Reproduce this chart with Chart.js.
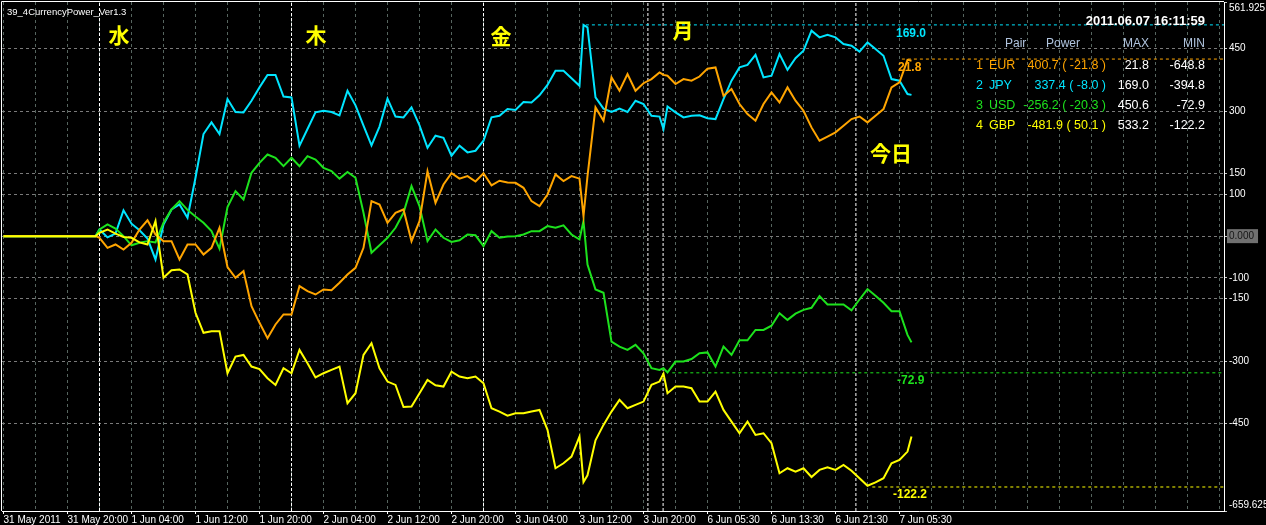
<!DOCTYPE html>
<html>
<head>
<meta charset="utf-8">
<title>39_4CurrencyPower_Ver1.3</title>
<script src="https://cdn.jsdelivr.net/npm/chart.js@4.4.1/dist/chart.umd.min.js"></script>
<style>
  html, body { margin: 0; padding: 0; background: #000; }
  #wrap { width: 1266px; height: 525px; }
</style>
</head>
<body>
<div id="wrap"><canvas id="c" width="1266" height="525"></canvas></div>
<script>
// x = hours counted from 31 May 12:00, weekend squeezed out like the MT4 bars
function range(a, b) { const r = []; for (let h = a; h <= b; h++) r.push(h); return r; }
const hours = [0, 11.5, ...range(12, 72), 72.5, ...range(73, 82), 82.5, ...range(83, 113), 113.5];

const eurPower = [0, 0,
  -4, -28, -20, -32, -16, 16, 38, 4, -12, -12, -56, -20, -20, -44, -28, 20, -74, -100, -84, -168, -208, -245, -212, -188, -188, -120,
  -132, -140, -128, -130, -112, -92, -76, -28, 84, 76, 32, 56, 64, -12, 36, 156, 80, 124, 151, 138, 144, 131, 151, 122, 133, 129, 128, 116, 84, 72, 100, 148, 132, 144, 138,
  48,
  144, 309, 277, 381, 349, 389, 349, 367, 377, 393,
  387,
  385, 365, 377, 373, 383, 402, 405, 337, 353, 317, 293, 277, 317, 345, 321, 357, 325, 301, 261, 229, 239, 249, 265, 281, 287, 273, 289, 305, 357, 369, 423,
  421];
const jpyPower = [0, 0,
  16, -3, 6, 62, 30, 14, -6, -56, 28, 64, 76, 44, 140, 245, 273, 245, 329, 298, 297, 325, 357, 387, 387, 335, 333, 217,
  257, 297, 301, 298, 290, 349, 314, 265, 218, 263, 330, 287, 285, 309, 266, 212, 241, 236, 193, 217, 201, 205, 229, 285, 289, 305, 303, 322, 321, 338, 363, 397, 397, 379, 361,
  507,
  501, 333, 306, 298, 306, 298, 325, 317, 289, 287,
  257,
  311, 297, 285, 289, 290, 283, 281, 329, 373, 405, 411, 435, 381, 385, 437, 399, 427, 445, 493, 477, 483, 477, 461, 457, 443, 465, 449, 433, 377, 373, 341,
  339];
const usdPower = [0, 0,
  16, 28, 18, 0, -22, -16, -12, -15, 32, 64, 84, 63, 47, 32, 12, -30, 70, 108, 88, 152, 176, 196, 188, 168, 188, 168,
  192, 184, 164, 156, 138, 154, 140, 56, -40, -22, -4, 20, 56, 120, 72, -12, 16, -4, -14, -10, 4, 2, -24, 12, -4, -1, 0, 4, 12, 12, 24, 20, 26, 4, -8,
  36,
  -68, -128, -136, -253, -265, -273, -261, -281, -317, -321,
  -317,
  -327, -301, -301, -295, -281, -279, -313, -265, -285, -250, -250, -225, -225, -215, -185, -201, -186, -177, -172, -144, -164, -164, -164, -178, -152, -127, -143, -160, -180, -180, -237,
  -255];
const gbpPower = [0, 0,
  8, 16, 6, -2, -4, -15, -20, 36, -100, -82, -80, -92, -184, -232, -228, -228, -329, -289, -285, -313, -319, -341, -357, -317, -329, -273,
  -305, -339, -329, -321, -313, -401, -377, -285, -257, -317, -349, -357, -410, -409, -377, -345, -358, -361, -325, -337, -341, -337, -353, -413, -421, -431, -425, -425, -421, -417, -465, -557, -545, -529, -481,
  -590,
  -574, -490, -453, -421, -393, -413, -405, -397, -357, -349,
  -330,
  -377, -361, -361, -365, -397, -397, -373, -417, -445, -473, -445, -477, -473, -497, -569, -557, -565, -557, -578, -561, -555, -561, -549, -563, -581, -599, -591, -581, -545, -537, -517,
  -481];

// max / min marker lines: [value, first hour]
const jpyMaxLine = [507, 72.8];
const eurMaxLine = [425, 112.3];
const usdMinLine = [-328, 83.6];
const gbpMinLine = [-602, 108.6];
// day separators (white dashed)
const daySeparators = [12, 36, 60, 80.55, 82.45, 106.55];

const xTickHours = [0, 8, 16, 24, 32, 40, 48, 56, 64, 72, 80, 88, 96, 104, 112];
const xTickLabels = ['31 May 2011', '31 May 20:00', '1 Jun 04:00', '1 Jun 12:00', '1 Jun 20:00', '2 Jun 04:00',
  '2 Jun 12:00', '2 Jun 20:00', '3 Jun 04:00', '3 Jun 12:00', '3 Jun 20:00', '6 Jun 05:30', '6 Jun 13:30',
  '6 Jun 21:30', '7 Jun 05:30'];
const yTickValues = [-659.625, -450, -300, -150, -100, 0, 100, 150, 300, 450, 561.925];
const yTickLabels = ['-659.625', '-450', '-300', '-150', '-100', '0.000', '100', '150', '300', '450', '561.925'];

// panel at the top right
const tablePairs = ['EUR', 'JPY', 'USD', 'GBP'];
const tablePower = ['400.7', '337.4', '-256.2', '-481.9'];
const tableChange = ['-21.8', '-8.0', '-20.3', '50.1'];
const tableMax = ['21.8', '169.0', '450.6', '533.2'];
const tableMin = ['-648.8', '-394.8', '-72.9', '-122.2'];
const markerTexts = ['169.0', '21.8', '-72.9', '-122.2'];
const dayNames = ['水', '木', '金', '月', '今日'];

const Y_MIN = -659.625, Y_MAX = 561.925;
const X_MIN = -0.1875, X_MAX = 152.5625;
const COL = { eur: '#ffa500', jpy: '#00e5ff', usd: '#1de21d', gbp: '#ffff00' };
const rowColors = [COL.eur, COL.jpy, COL.usd, COL.gbp];

const pts = (vals) => vals.map((v, i) => ({ x: hours[i], y: v }));
const series = (label, vals, color, order) => ({
  label, data: pts(vals), borderColor: color, borderWidth: 2, pointRadius: 0, tension: 0, order,
});
const hline = (spec, color) => ({
  data: [{ x: spec[1], y: spec[0] }, { x: X_MAX, y: spec[0] }],
  borderColor: color, borderWidth: 1, borderDash: [3, 3], pointRadius: 0, order: 10,
});
const vline = (h) => ({
  data: [{ x: h, y: Y_MIN }, { x: h, y: Y_MAX }],
  borderColor: '#ffffff', borderWidth: 1, borderDash: [3, 2], pointRadius: 0, order: 11,
});

const gridHours = [];
for (let h = 0; h <= 152; h += 4) gridHours.push(h);

const blackBg = {
  id: 'blackBg',
  beforeDraw(chart) {
    const c = chart.ctx;
    c.save();
    c.fillStyle = '#000';
    c.fillRect(0, 0, chart.width, chart.height);
    c.restore();
  },
};

const overlay = {
  id: 'overlay',
  afterDraw(chart) {
    const c = chart.ctx;
    const a = chart.chartArea;
    c.save();
    // frame top/left
    c.strokeStyle = '#fff';
    c.lineWidth = 1;
    c.beginPath();
    c.moveTo(a.left - 0.5, a.bottom);
    c.lineTo(a.left - 0.5, a.top - 0.5);
    c.lineTo(a.right, a.top - 0.5);
    c.stroke();

    c.textBaseline = 'middle';
    c.fillStyle = '#fff';
    c.font = '9.5px "Liberation Sans", Arial, sans-serif';
    c.textAlign = 'left';
    c.fillText('39_4CurrencyPower_Ver1.3', 7, 12);

    // day names
    c.fillStyle = '#ffff00';
    c.font = 'bold 21px "Noto Sans CJK JP", sans-serif';
    c.textAlign = 'center';
    const dayPos = [[119, 35], [316, 35], [501, 36], [683, 30], [891, 153]];
    dayNames.forEach((t, i) => c.fillText(t, dayPos[i][0], dayPos[i][1]));

    // max/min markers
    c.font = 'bold 12px "Liberation Sans", Arial, sans-serif';
    c.textAlign = 'left';
    const mk = [[896, 34, COL.jpy], [898, 68, COL.eur], [897, 381, COL.usd], [893, 495, COL.gbp]];
    markerTexts.forEach((t, i) => { c.fillStyle = mk[i][2]; c.fillText(t, mk[i][0], mk[i][1]); });

    // panel
    c.font = 'bold 13px "Liberation Sans", Arial, sans-serif';
    c.fillStyle = '#fff';
    c.textAlign = 'right';
    c.fillText('2011.06.07 16:11:59', 1205, 21);

    c.font = '12px "Liberation Sans", Arial, sans-serif';
    c.fillStyle = '#b0c4de';
    c.textAlign = 'left';
    c.fillText('Pair', 1005, 44);
    c.fillText('Power', 1046, 44);
    c.textAlign = 'right';
    c.fillText('MAX', 1149, 44);
    c.fillText('MIN', 1205, 44);

    c.font = '12.5px "Liberation Sans", Arial, sans-serif';
    tablePairs.forEach((p, i) => {
      const y = 66 + i * 20;
      c.fillStyle = rowColors[i];
      c.textAlign = 'left';
      c.fillText(String(i + 1), 976, y);
      c.fillText(p, 989, y);
      c.textAlign = 'right';
      c.fillText(`${tablePower[i]} ( ${tableChange[i]} )`, 1106, y);
      c.fillStyle = '#fff';
      c.fillText(tableMax[i], 1149, y);
      c.fillText(tableMin[i], 1205, y);
    });
    c.restore();
  },
};

new Chart(document.getElementById('c'), {
  type: 'line',
  data: {
    datasets: [
      series('GBP', gbpPower, COL.gbp, 0),
      series('EUR', eurPower, COL.eur, 1),
      series('USD', usdPower, COL.usd, 2),
      series('JPY', jpyPower, COL.jpy, 3),
      hline(jpyMaxLine, COL.jpy),
      hline(eurMaxLine, COL.eur),
      hline(usdMinLine, COL.usd),
      hline(gbpMinLine, COL.gbp),
      ...daySeparators.map(vline),
    ],
  },
  options: {
    responsive: false,
    devicePixelRatio: 1,
    animation: false,
    layout: { padding: { left: 2, top: 2, right: 0, bottom: 0 } },
    plugins: { legend: { display: false }, tooltip: { enabled: false } },
    scales: {
      x: {
        type: 'linear',
        position: 'bottom',
        min: X_MIN,
        max: X_MAX,
        afterBuildTicks: (s) => { s.ticks = gridHours.map((v) => ({ value: v })); },
        afterFit: (s) => { s.height = 14; s.paddingLeft = 0; s.paddingRight = 0; },
        grid: {
          color: '#56655f',
          lineWidth: 1,
          tickLength: 3,
          tickColor: (ctx) => (ctx.tick && xTickHours.includes(ctx.tick.value) ? '#fff' : 'transparent'),
        },
        border: { display: true, color: '#fff', width: 1, dash: [3, 3] },
        ticks: {
          autoSkip: false,
          maxRotation: 0,
          minRotation: 0,
          align: 'start',
          padding: 0,
          color: '#fff',
          font: { family: '"Liberation Sans", Arial, sans-serif', size: 10 },
          callback: (v) => {
            const i = xTickHours.indexOf(v);
            return i >= 0 ? xTickLabels[i] : '';
          },
        },
      },
      y: {
        type: 'linear',
        position: 'right',
        min: Y_MIN,
        max: Y_MAX,
        afterBuildTicks: (s) => { s.ticks = yTickValues.map((v) => ({ value: v })); },
        afterFit: (s) => { s.width = 42; s.paddingTop = 0; s.paddingBottom = 0; },
        grid: {
          color: (ctx) => (ctx.tick && (ctx.tick.value === Y_MIN || ctx.tick.value === Y_MAX) ? 'transparent' : '#7a7a7a'),
          lineWidth: 1,
          tickLength: 3,
          tickColor: '#c8c8c8',
        },
        border: { display: true, color: '#fff', width: 1, dash: [3, 3] },
        ticks: {
          autoSkip: false,
          padding: 2,
          font: { family: '"Liberation Sans", Arial, sans-serif', size: 10 },
          color: (ctx) => (ctx.tick && ctx.tick.value === 0 ? '#151515' : '#fff'),
          showLabelBackdrop: (ctx) => !!(ctx.tick && ctx.tick.value === 0),
          backdropColor: '#707070',
          backdropPadding: { top: 1, bottom: 1, left: 2, right: 4 },
          callback: (v) => {
            const i = yTickValues.indexOf(v);
            if (i < 0) return '';
            if (v === Y_MAX) return ['', yTickLabels[i]];
            if (v === Y_MIN) return [yTickLabels[i], ''];
            return yTickLabels[i];
          },
        },
      },
    },
  },
  plugins: [blackBg, overlay],
});
</script>
</body>
</html>
